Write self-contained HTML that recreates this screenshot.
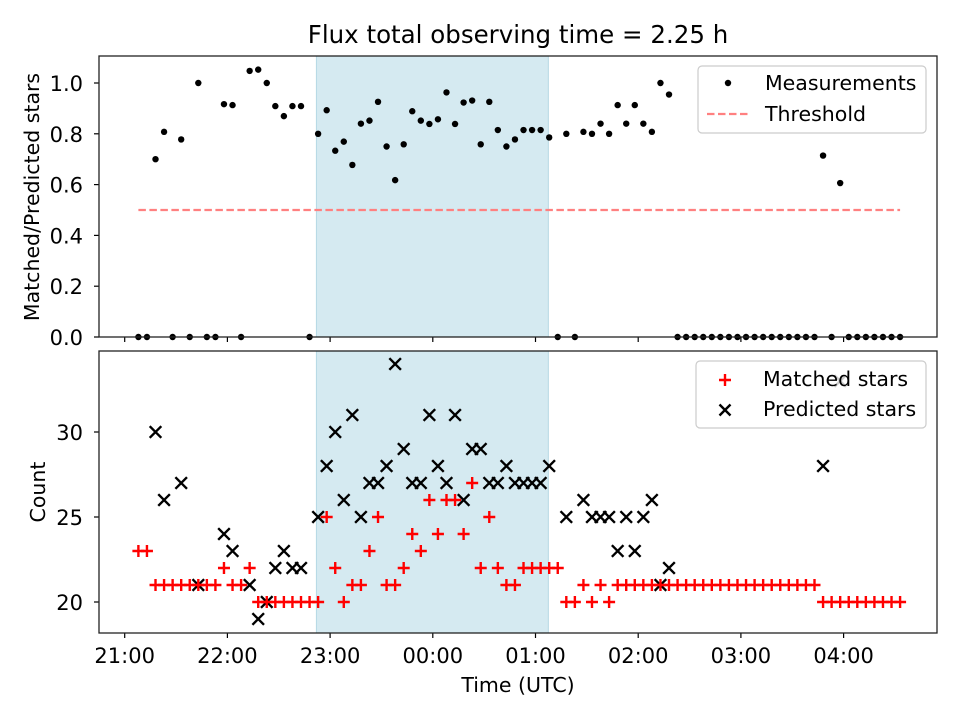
<!DOCTYPE html>
<html><head><meta charset="utf-8"><style>
body{margin:0;background:#fff}
svg text{font-family:"DejaVu Sans","Liberation Sans",sans-serif;fill:#000}
</style></head><body>
<svg id="fig" width="960" height="720" viewBox="0 0 960 720" xmlns="http://www.w3.org/2000/svg">
<rect width="960" height="720" fill="#fff"/>
<text x="518" y="43" font-size="24.5" text-anchor="middle">Flux total observing time = 2.25 h</text>
<g id="topPanel"></g><g id="botPanel"></g>
<text x="518" y="692" font-size="20.5" text-anchor="middle">Time (UTC)</text>
<text transform="translate(39,197) rotate(-90)" font-size="20.5" text-anchor="middle">Matched/Predicted stars</text>
<text transform="translate(45,492) rotate(-90)" font-size="20.5" text-anchor="middle">Count</text>
</svg>
<script>
// minutes after 21:00 UTC
const times=[8,13,18,23,28,33,38,43,48,53,58,63,68,73,78,83,88,93,98,103,108,113,118,123,128,133,138,143,148,153,158,163,168,173,178,183,188,193,198,203,208,213,218,223,228,233,238,243,248,253,258,263,268,273,278,283,288,293,298,303,308,313,318,323,328,333,338,343,348,353,358,363,368,373,378,383,388,393,398,403,408,413,418,423,428,433,438,443,448,453];
const matched=[23,23,21,21,21,21,21,21,21,21,22,21,21,22,20,20,20,20,20,20,20,20,25,22,20,21,21,23,25,21,21,22,24,23,26,24,26,26,24,27,22,25,22,21,21,22,22,22,22,22,20,20,21,20,21,20,21,21,21,21,21,21,21,21,21,21,21,21,21,21,21,21,21,21,21,21,21,21,21,21,20,20,20,20,20,20,20,20,20,20];
const predicted=[null,null,30,26,null,27,null,21,null,null,24,23,null,21,19,20,22,23,22,22,null,25,28,30,26,31,25,27,27,28,34,29,27,27,31,28,27,31,26,29,29,27,27,28,27,27,27,27,28,null,25,null,26,25,25,25,23,25,23,25,26,21,22,null,null,null,null,null,null,null,null,null,null,null,null,null,null,null,null,null,28,null,33,null,null,null,null,null,null,null];
const threshold=0.5;
const spanStart=112, spanEnd=247.5;
const xTicks=[0,60,120,180,240,300,360,420];
const xTickLabels=["21:00","22:00","23:00","00:00","01:00","02:00","03:00","04:00"];
const ratioTicks=[0,0.2,0.4,0.6,0.8,1.0];
const countTicks=[20,25,30];

const NS="http://www.w3.org/2000/svg";
function mk(parent,tag,attrs){const e=document.createElementNS(NS,tag);for(const k in attrs)e.setAttribute(k,attrs[k]);parent.appendChild(e);return e;}
const L=99,R=937;
const xs=t=>124.7+t*102.7/60;
const yTop=v=>337-v*254;
const yBot=c=>602-(c-20)*17;
const topG=document.getElementById('topPanel'),botG=document.getElementById('botPanel');

function axes(g,y0,y1,name,ticks,yf,fmt,labels){
  let s=mk(g,'rect',{x:xs(spanStart),y:y0,width:xs(spanEnd)-xs(spanStart),height:y1-y0,fill:'#d5eaf1',stroke:'#b5d8e4','stroke-width':1});
  
  
  xTicks.forEach((t,i)=>{
    const tk=mk(g,'line',{x1:xs(t),x2:xs(t),y1:y1,y2:y1+5,stroke:'#000','stroke-width':1.2});
    
    
    if(labels){const tx=mk(g,'text',{x:xs(t),y:y1+30,'font-size':21,'text-anchor':'middle'});tx.textContent=xTickLabels[i];
      
      }
  });
  ticks.forEach(v=>{
    const y=yf(v);
    const tk=mk(g,'line',{x1:L-5,x2:L,y1:y,y2:y,stroke:'#000','stroke-width':1.2});
    
    
    const tx=mk(g,'text',{x:L-16,y:y+8,'font-size':21,'text-anchor':'end'});tx.textContent=fmt(v);
    
    
  });
}
function frame(g,y0,y1,name){
  const f=mk(g,'rect',{x:L,y:y0,width:R-L,height:y1-y0,fill:'none',stroke:'#222','stroke-width':1.3});
  
  
}
axes(topG,56,337,'ratio-panel',ratioTicks,yTop,v=>v.toFixed(1),false);
axes(botG,351,633,'count-panel',countTicks,yBot,v=>String(v),true);

const th=mk(topG,'line',{x1:xs(times[0]),x2:xs(times[times.length-1]),y1:yTop(threshold),y2:yTop(threshold),stroke:'#ff8080','stroke-width':2.2,'stroke-dasharray':'7.5,3.5'});



times.forEach((t,i)=>{
  const r=predicted[i]?matched[i]/predicted[i]:0;
  const c=mk(topG,'circle',{cx:xs(t),cy:yTop(r),r:3.2,fill:'#000'});
  
  
});
times.forEach((t,i)=>{
  if(predicted[i]==null)return;
  const x=xs(t),y=yBot(predicted[i]),d=5.8;
  const p=mk(botG,'path',{d:`M${x-d},${y-d}L${x+d},${y+d}M${x-d},${y+d}L${x+d},${y-d}`,stroke:'#000','stroke-width':2.4,fill:'none'});
  
  
});
times.forEach((t,i)=>{
  const x=xs(t),y=yBot(matched[i]),d=6;
  const p=mk(botG,'path',{d:`M${x-d},${y}L${x+d},${y}M${x},${y-d}L${x},${y+d}`,stroke:'#ff0000','stroke-width':2.4,fill:'none'});
  
  
});
frame(topG,56,337,'ratio-panel');
frame(botG,351,633,'count-panel');

function legendBox(g,x,y,w,h,name){
  const b=mk(g,'rect',{x:x,y:y,width:w,height:h,rx:4,fill:'#fff','fill-opacity':0.8,stroke:'#cccccc','stroke-width':1.2});
  
  
}
legendBox(topG,698,66,228,67,'ratio-legend');
let e=mk(topG,'circle',{cx:728,cy:83,r:3.2,fill:'#000'});


e=mk(topG,'text',{x:765,y:90,'font-size':20.5});e.textContent='Measurements';


e=mk(topG,'line',{x1:707,x2:749,y1:114,y2:114,stroke:'#ff8080','stroke-width':2.2,'stroke-dasharray':'7.5,3.5'});


e=mk(topG,'text',{x:765,y:121,'font-size':20.5});e.textContent='Threshold';



legendBox(botG,696,361,230,67,'count-legend');
e=mk(botG,'path',{d:'M719,380L731,380M725,374L725,386',stroke:'#ff0000','stroke-width':2.4,fill:'none'});


e=mk(botG,'text',{x:763,y:386,'font-size':20.5});e.textContent='Matched stars';


e=mk(botG,'path',{d:'M719.5,404.5L730.5,415.5M719.5,415.5L730.5,404.5',stroke:'#000','stroke-width':2.4,fill:'none'});


e=mk(botG,'text',{x:763,y:416,'font-size':20.5});e.textContent='Predicted stars';


</script>
</body></html>
